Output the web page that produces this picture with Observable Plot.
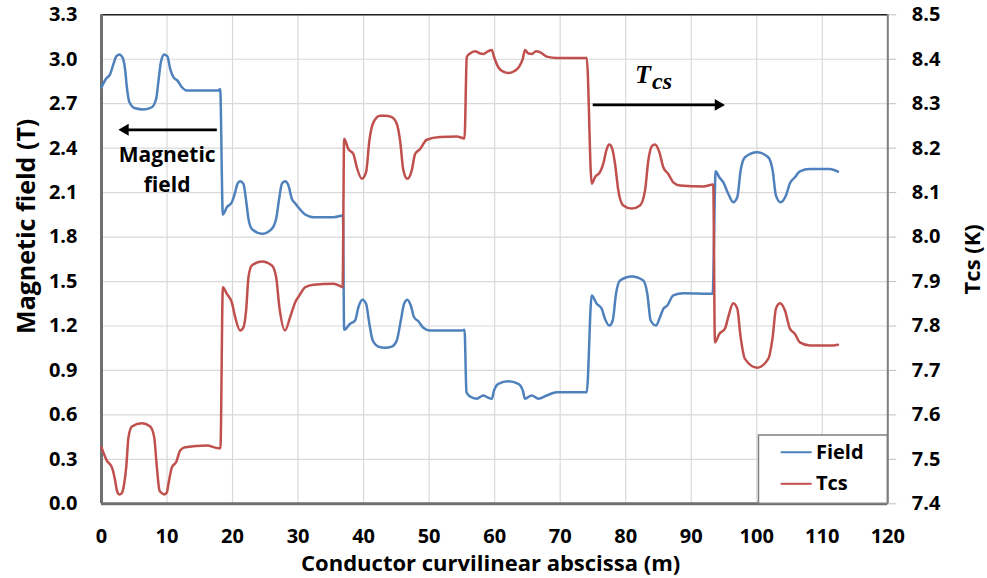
<!DOCTYPE html>
<html>
<head>
<meta charset="utf-8">
<script src="https://cdn.jsdelivr.net/npm/d3@7"></script>
<script src="https://cdn.jsdelivr.net/npm/@observablehq/plot@0.6"></script>
<style>
  html, body { margin: 0; padding: 0; background: #ffffff; }
  #chart svg { display: block; }
</style>
</head>
<body>
<div id="chart"></div>
<script>
// ---------------- DATA ----------------
const xTicks = [0, 10, 20, 30, 40, 50, 60, 70, 80, 90, 100, 110, 120];
const fieldTicks = [0.0, 0.3, 0.6, 0.9, 1.2, 1.5, 1.8, 2.1, 2.4, 2.7, 3.0, 3.3];
const tcsTicks = [7.4, 7.5, 7.6, 7.7, 7.8, 7.9, 8.0, 8.1, 8.2, 8.3, 8.4, 8.5];

// Magnetic field (T) along the conductor
const fieldX = [
  0, 0.65, 1.33, 1.83, 2.24, 2.70, 3.20, 3.62, 3.87, 4.27, 5.14, 6.41, 7.69, 8.34, 8.70, 9.06, 9.57, 10.07, 10.48, 10.98, 11.59, 12.27, 13.03, 17.85, 18.11,
  18.52, 19.13, 19.89, 20.40, 20.75, 21.16, 21.66, 22.07, 22.43, 22.94, 24.47, 26.00, 26.65, 27.15, 27.52, 28.02, 28.53, 29.05, 29.55, 30.21, 31.08, 32.34, 35.39, 36.67, 36.85,
  37.03, 37.94, 38.70, 39.21, 39.82, 40.38, 40.88, 41.40, 42.26, 43.28, 44.30, 45.06, 45.68, 46.18, 46.68, 47.20, 47.70, 48.36, 49.12, 50.14, 54.98, 55.40,
  55.70, 56.25, 57.27, 58.28, 58.89, 59.56, 59.91, 60.56, 62.09, 63.62, 64.29, 64.64, 65.66, 66.67, 67.95, 69.47, 74.05,
  74.81, 75.58, 76.34, 76.84, 77.50, 78.02, 78.52, 79.13, 80.92, 82.69, 83.30, 83.81, 84.62, 85.23, 85.74, 86.35, 87.26, 88.79, 93.27,
  93.73, 94.28, 94.89, 95.65, 96.41, 97.03, 97.54, 98.20, 100.08, 101.75, 102.43, 102.93, 103.65, 104.45, 105.06, 105.83, 106.59, 108.12, 111.17, 112.39
];
const fieldB = [
  2.811, 2.865, 2.901, 2.969, 3.018, 3.032, 3.013, 2.924, 2.811, 2.710, 2.669, 2.661, 2.676, 2.733, 2.856, 2.980, 3.032, 3.018, 2.935, 2.879, 2.856, 2.811, 2.789, 2.789, 2.800,
  1.952, 2.001, 2.035, 2.103, 2.159, 2.177, 2.159, 2.047, 1.923, 1.856, 1.822, 1.856, 1.923, 2.069, 2.159, 2.177, 2.148, 2.058, 2.028, 1.991, 1.952, 1.934, 1.934, 1.945, 1.947,
  1.174, 1.215, 1.237, 1.327, 1.377, 1.350, 1.215, 1.102, 1.061, 1.053, 1.061, 1.102, 1.237, 1.350, 1.377, 1.338, 1.259, 1.232, 1.188, 1.169, 1.169, 1.174,
  0.753, 0.724, 0.709, 0.731, 0.719, 0.709, 0.765, 0.810, 0.827, 0.810, 0.765, 0.709, 0.731, 0.709, 0.731, 0.753, 0.753,
  1.406, 1.350, 1.316, 1.248, 1.203, 1.237, 1.417, 1.507, 1.534, 1.507, 1.417, 1.237, 1.203, 1.259, 1.316, 1.338, 1.406, 1.421, 1.417,
  2.244, 2.204, 2.170, 2.092, 2.035, 2.069, 2.249, 2.339, 2.372, 2.339, 2.249, 2.080, 2.035, 2.080, 2.163, 2.204, 2.244, 2.260, 2.260, 2.242
];

// Current sharing temperature Tcs (K) along the conductor
const tcsX = [
  0, 0.82, 1.59, 2.09, 2.35, 2.70, 3.11, 3.46, 3.77, 4.12, 4.64, 6.16, 7.43, 8.04, 8.45, 8.85, 9.21, 9.57, 9.98, 10.22, 10.74, 11.40, 12.01, 12.77, 16.08, 17.85, 18.15,
  18.52, 19.13, 19.89, 20.40, 21.16, 21.66, 22.07, 22.43, 22.94, 24.47, 26.00, 26.65, 27.15, 28.02, 28.79, 29.55, 30.21, 31.08, 32.34, 35.39, 36.52, 36.80,
  37.03, 37.68, 38.44, 38.96, 39.73, 40.38, 40.88, 41.50, 42.52, 43.28, 44.30, 45.06, 45.57, 46.07, 46.68, 47.35, 47.86, 48.62, 49.64, 51.67, 54.22, 55.40,
  55.75, 56.25, 57.01, 57.78, 58.28, 58.89, 59.56, 59.91, 60.56, 61.33, 62.09, 62.96, 63.77, 64.29, 64.64, 65.14, 65.66, 66.32, 67.03, 67.95, 69.47, 74.05,
  74.81, 75.32, 76.08, 76.58, 77.10, 77.50, 77.96, 78.37, 78.87, 79.63, 80.92, 82.18, 82.95, 83.45, 83.97, 84.47, 85.13, 85.74, 86.50, 87.26, 88.28, 91.84, 93.36,
  93.62, 94.28, 95.15, 95.65, 96.41, 97.03, 97.54, 98.20, 100.08, 101.75, 102.43, 102.93, 103.54, 104.30, 105.06, 105.83, 106.59, 108.12, 111.17, 112.39
];
const tcsK = [
  7.527, 7.497, 7.482, 7.452, 7.430, 7.421, 7.424, 7.445, 7.482, 7.550, 7.574, 7.581, 7.574, 7.550, 7.482, 7.430, 7.424, 7.421, 7.426, 7.445, 7.482, 7.494, 7.520, 7.527, 7.531, 7.525, 7.525,
  7.887, 7.872, 7.853, 7.820, 7.790, 7.797, 7.835, 7.910, 7.936, 7.945, 7.936, 7.910, 7.842, 7.790, 7.820, 7.853, 7.869, 7.887, 7.893, 7.895, 7.889, 7.887,
  8.221, 8.198, 8.187, 8.157, 8.131, 8.146, 8.217, 8.258, 8.273, 8.273, 8.270, 8.255, 8.217, 8.150, 8.131, 8.150, 8.187, 8.198, 8.219, 8.225, 8.226, 8.222,
  8.405, 8.413, 8.418, 8.413, 8.412, 8.417, 8.421, 8.405, 8.382, 8.372, 8.369, 8.373, 8.384, 8.401, 8.421, 8.413, 8.412, 8.418, 8.415, 8.406, 8.403, 8.403,
  8.120, 8.135, 8.146, 8.165, 8.198, 8.208, 8.198, 8.165, 8.105, 8.071, 8.064, 8.071, 8.105, 8.172, 8.204, 8.208, 8.191, 8.157, 8.142, 8.123, 8.116, 8.114, 8.118,
  7.763, 7.782, 7.794, 7.820, 7.851, 7.839, 7.775, 7.726, 7.706, 7.726, 7.775, 7.839, 7.851, 7.835, 7.794, 7.782, 7.763, 7.756, 7.756, 7.758
];

const seriesNames = ["Field", "Tcs"];
const seriesColors = ["#4f81bd", "#c0504d"];

// ---------------- TEXT ----------------
const xTitle = "Conductor curvilinear abscissa (m)";
const yLeftTitle = "Magnetic field (T)";
const yRightTitle = "Tcs (K)";
const noteField = ["Magnetic", "field"];

// ---------------- BUILD ----------------
const fieldDomain = [0, 3.3];
const tcsDomain = [7.4, 8.5];
const tcsToY = t => (t - tcsDomain[0]) / (tcsDomain[1] - tcsDomain[0]) * (fieldDomain[1] - fieldDomain[0]) + fieldDomain[0];

const fieldData = fieldX.map((x, i) => ({x, v: fieldB[i]}));
const tcsData = tcsX.map((x, i) => ({x, v: tcsK[i]}));
const tcsTickPos = tcsTicks.map(tcsToY);
const tcsLabel = new Map(tcsTickPos.map((p, i) => [p, tcsTicks[i].toFixed(1)]));

// annotation placement (data units)
const arrowLeft = {x1: 17.6, x2: 2.59, y: 2.524};
const arrowRight = {x1: 74.97, x2: 95.15, y: 2.692};
const noteFieldPos = [{x: 10.02, y: 2.350}, {x: 10.02, y: 2.148}];
const legendBox = {x1: 100.34, x2: 120, y1: 0, y2: 0.461};
const legendRows = [0.348, 0.135];

const FONT = "'Open Sans', 'DejaVu Sans', sans-serif";

const legendMarks = [];
seriesNames.forEach((name, i) => {
  legendMarks.push(Plot.link([name], {x1: () => 103.65, x2: () => 108.38, y1: () => legendRows[i], y2: () => legendRows[i], stroke: seriesColors[i], strokeWidth: 2}));
  legendMarks.push(Plot.text([name], {x: () => 109.03, y: () => legendRows[i], text: d => d, textAnchor: "start", fontSize: 20, fontWeight: "bold", fill: "#000"}));
});

const chart = Plot.plot({
  width: 987,
  height: 578,
  marginLeft: 101,
  marginRight: 99.7,
  marginTop: 14.3,
  marginBottom: 74.7,
  style: {fontFamily: FONT, fontSize: "20px", fontWeight: "bold", color: "#000", background: "#fff", overflow: "visible"},
  x: {domain: [0, 120], label: null},
  y: {domain: fieldDomain, label: null},
  marks: [
    Plot.gridX(xTicks, {stroke: "#d9d9d9", strokeOpacity: 1, strokeWidth: 1.2}),
    Plot.gridY(fieldTicks, {stroke: "#d9d9d9", strokeOpacity: 1, strokeWidth: 1.2}),
    Plot.axisX(xTicks, {tickSize: 0, tickPadding: 25, label: null, tickFormat: d => String(d)}),
    Plot.axisY(fieldTicks, {anchor: "left", tickSize: 0, tickPadding: 24, label: null, tickFormat: d => d.toFixed(1)}),
    Plot.axisY(tcsTickPos, {anchor: "right", tickSize: 8, tickPadding: 16, stroke: "#bfbfbf", label: null, tickFormat: d => tcsLabel.get(d)}),
    // frame
    Plot.ruleY([fieldDomain[1]], {stroke: "#222", strokeWidth: 1.6}),
    Plot.ruleX([120], {stroke: "#7f7f7f", strokeWidth: 2}),
    Plot.ruleX([0], {stroke: "#6f6f6f", strokeWidth: 3}),
    Plot.ruleY([0], {stroke: "#6f6f6f", strokeWidth: 3}),
    // series
    Plot.line(fieldData, {x: "x", y: "v", stroke: seriesColors[0], strokeWidth: 2.5, curve: "monotone-x"}),
    Plot.line(tcsData, {x: "x", y: d => tcsToY(d.v), stroke: seriesColors[1], strokeWidth: 2.5, curve: "monotone-x"}),
    // annotations: arrows
    Plot.link([arrowLeft], {x1: "x1", x2: d => d.x2 + 1.0, y1: "y", y2: "y", stroke: "#000", strokeWidth: 2.7}),
    Plot.dot([arrowLeft], {x: "x2", y: "y", symbol: "triangle", r: 4.4, rotate: -90, dx: 6.8, fill: "#000", stroke: "none"}),
    Plot.link([arrowRight], {x1: "x1", x2: d => d.x2 - 1.0, y1: "y", y2: "y", stroke: "#000", strokeWidth: 2.7}),
    Plot.dot([arrowRight], {x: "x2", y: "y", symbol: "triangle", r: 4.4, rotate: 90, dx: -6.8, fill: "#000", stroke: "none"}),
    Plot.text(noteField, {x: (d, i) => noteFieldPos[i].x, y: (d, i) => noteFieldPos[i].y, text: d => d, fontSize: 21, fontWeight: "bold", fill: "#000"}),
    Plot.text(["T"], {x: () => 81.42, y: () => 2.893, text: d => d, textAnchor: "start", fontFamily: "'Liberation Serif', 'DejaVu Serif', serif", fontStyle: "italic", fontWeight: "bold", fontSize: 26, fill: "#000"}),
    Plot.text(["cs"], {x: () => 84.01, y: () => 2.852, text: d => d, textAnchor: "start", fontFamily: "'Liberation Serif', 'DejaVu Serif', serif", fontStyle: "italic", fontWeight: "bold", fontSize: 24, fill: "#000"}),
    // legend
    Plot.rect([legendBox], {x1: "x1", x2: "x2", y1: "y1", y2: "y2", fill: "#fff", stroke: "#7f7f7f", strokeWidth: 1.5}),
    ...legendMarks,
    // axis titles
    Plot.text([xTitle], {frameAnchor: "bottom", textAnchor: "middle", lineAnchor: "middle", text: d => d, dx: -4, dy: 60, fontSize: 22, fontWeight: "bold", fill: "#000"}),
    Plot.text([yLeftTitle], {frameAnchor: "left", textAnchor: "middle", lineAnchor: "middle", text: d => d, dx: -75, dy: -33, rotate: -90, fontSize: 25, fontWeight: "bold", fill: "#000"}),
    Plot.text([yRightTitle], {frameAnchor: "right", textAnchor: "middle", lineAnchor: "middle", text: d => d, dx: 85, dy: 0, rotate: -90, fontSize: 22, fontWeight: "bold", fill: "#000"})
  ]
});

document.getElementById("chart").appendChild(chart);
</script>
</body>
</html>
